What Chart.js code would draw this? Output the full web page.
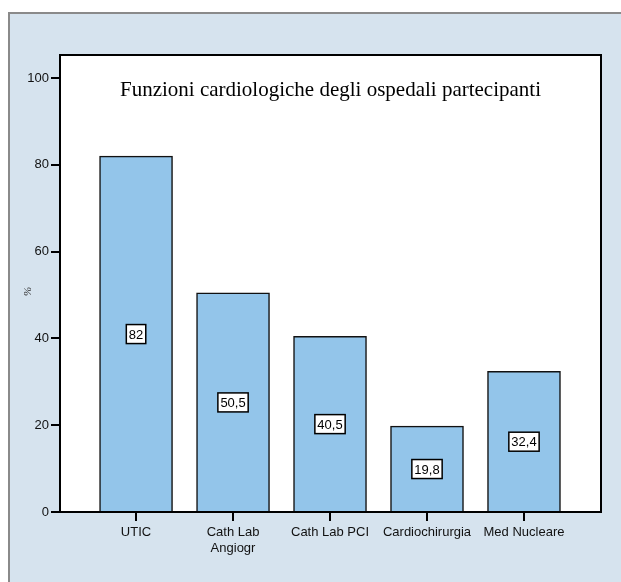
<!DOCTYPE html>
<html>
<head>
<meta charset="utf-8">
<script src="https://cdn.jsdelivr.net/npm/chart.js@4"></script>
<style>
  html, body { margin: 0; padding: 0; background: #fff; }
  #cornice {
    position: absolute; left: 8px; top: 12px; right: 0; bottom: 0;
    background: #d6e3ee;
    border-top: 2px solid #8a8a8a;
    border-left: 2px solid #8a8a8a;
  }
  #wykres { position: absolute; left: 0; top: 0; }
</style>
</head>
<body>
<div id="cornice"></div>
<canvas id="wykres" width="621" height="582"></canvas>
<script>
const categorie = [['UTIC'], ['Cath Lab', 'Angiogr'], ['Cath Lab PCI'], ['Cardiochirurgia'], ['Med Nucleare']];
const valori = [82, 50.5, 40.5, 19.8, 32.4];
const etichette = ['82', '50,5', '40,5', '19,8', '32,4'];
const tickY = [0, 20, 40, 60, 80, 100];
const titolo = 'Funzioni cardiologiche degli ospedali partecipanti';

const FONT = "'Liberation Sans', Arial, sans-serif";

// sfondo bianco dell'area del grafico
const sfondoPlugin = {
  id: 'sfondo',
  beforeDraw(chart) {
    const { ctx, chartArea: a } = chart;
    ctx.save();
    ctx.fillStyle = '#fff';
    ctx.fillRect(a.left, a.top, a.right - a.left, a.bottom - a.top);
    ctx.restore();
  }
};

// cornice del grafico, titolo, etichette dei valori e "%"
const extraPlugin = {
  id: 'extra',
  afterDatasetsDraw(chart) {
    const { ctx, chartArea: a, scales } = chart;
    ctx.save();
    ctx.strokeStyle = '#000';
    ctx.lineWidth = 2;
    ctx.strokeRect(a.left, a.top, a.right - a.left, a.bottom - a.top);

    ctx.fillStyle = '#000';
    ctx.font = "21px 'Liberation Serif', 'Times New Roman', serif";
    ctx.textAlign = 'center';
    ctx.textBaseline = 'middle';
    ctx.fillText(titolo, (a.left + a.right) / 2, a.top + 35);

    ctx.font = '13px ' + FONT;
    valori.forEach((v, i) => {
      const x = scales.x.getPixelForValue(i);
      const y = scales.y.getPixelForValue(v / 2);
      const w = ctx.measureText(etichette[i]).width + 5;
      const h = 19;
      ctx.fillStyle = '#fff';
      ctx.fillRect(x - w / 2, y - h / 2, w, h);
      ctx.lineWidth = 1.5;
      ctx.strokeStyle = '#000';
      ctx.strokeRect(x - w / 2, y - h / 2, w, h);
      ctx.fillStyle = '#000';
      ctx.fillText(etichette[i], x, y + 1);
    });

    ctx.translate(28, (a.top + a.bottom) / 2 + 8);
    ctx.rotate(-Math.PI / 2);
    ctx.font = "italic 11px 'Liberation Serif', serif";
    ctx.fillStyle = '#333';
    ctx.fillText('%', 0, 0);
    ctx.restore();
  }
};

new Chart(document.getElementById('wykres').getContext('2d'), {
  type: 'bar',
  data: {
    datasets: [{
      data: valori.map((v, i) => ({ x: i, y: v })),
      backgroundColor: '#93c5ea',
      borderColor: '#111',
      borderWidth: 1.5,
      barThickness: 73
    }]
  },
  options: {
    responsive: false,
    animation: false,
    layout: { padding: { left: 0, top: 55, right: 20, bottom: 0 } },
    plugins: { legend: { display: false }, tooltip: { enabled: false }, title: { display: false } },
    scales: {
      x: {
        type: 'linear',
        offset: false,
        min: -0.784,
        max: 4.794,
        afterBuildTicks: s => { s.ticks = [0, 1, 2, 3, 4].map(v => ({ value: v })); },
        afterFit: s => { s.height = 70; },
        border: { display: true, color: '#000', width: 2 },
        grid: { offset: false, drawOnChartArea: false, drawTicks: true, tickLength: 9, color: '#000', lineWidth: 2 },
        ticks: {
          padding: 4,
          color: '#111',
          font: { family: FONT, size: 13 },
          autoSkip: false,
          maxRotation: 0,
          callback: v => categorie[v]
        }
      },
      y: {
        min: 0,
        max: 105.3,
        afterBuildTicks: s => { s.ticks = tickY.map(v => ({ value: v })); },
        afterFit: s => { s.width = 60; },
        border: { display: true, color: '#000', width: 2 },
        grid: { drawOnChartArea: false, drawTicks: true, tickLength: 9, color: '#000', lineWidth: 2 },
        ticks: {
          padding: 2,
          color: '#111',
          font: { family: FONT, size: 13 }
        }
      }
    }
  },
  plugins: [sfondoPlugin, extraPlugin]
});
</script>
</body>
</html>
